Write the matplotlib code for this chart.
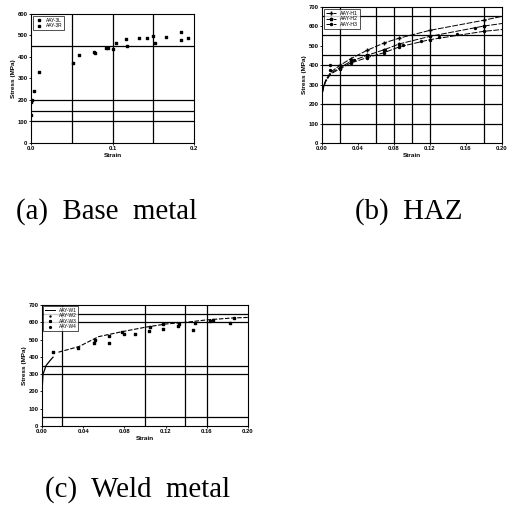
import matplotlib
matplotlib.use("Agg")
import matplotlib.pyplot as plt

W = H = 507

# ---- (a) base metal: scattered test points
a_strain = [0.0, 0.0, 0.001, 0.004, 0.0098, 0.051, 0.059, 0.0776, 0.079, 0.092, 0.094,
            0.100, 0.104, 0.117, 0.118, 0.133, 0.142, 0.150, 0.152, 0.166, 0.184, 0.184, 0.193]
a_stress = [130, 190, 200, 240, 328, 371, 410, 425, 418, 444, 444,
            436, 467, 484, 449, 487, 487, 498, 467, 495, 515, 479, 490]
a_hlines = [100, 150, 200, 450]
a_vlines = [0.05, 0.10, 0.15]

# ---- (b) HAZ: three fitted curves
b_strain = [0.0, 0.0, 0.0015, 0.004, 0.0096, 0.02, 0.032, 0.05, 0.069, 0.086, 0.12, 0.18, 0.20]
b_h1 = [0, 245, 288, 323, 365, 400, 434, 477, 515, 540, 580, 632, 652]
b_h2 = [0, 245, 285, 318, 360, 388, 420, 451, 480, 510, 549, 602, 615]
b_h3 = [0, 245, 282, 315, 355, 382, 412, 439, 465, 495, 532, 575, 584]
b_pts_x = [0.009, 0.0093, 0.035, 0.05, 0.07, 0.09, 0.11, 0.13, 0.15, 0.17]
b_pts_y = [400, 374, 425, 445, 480, 505, 525, 545, 560, 590]
b_hlines = [100, 200, 300, 350, 400, 455, 555, 655]
b_vlines = [0.02, 0.06, 0.08, 0.10, 0.12, 0.18]

# ---- (c) weld metal
c_strain0 = [0.0, 0.0, 0.001, 0.004, 0.008, 0.0107]
c_stress0 = [0, 200, 300, 350, 380, 398]
c_strain1 = [0.016, 0.036, 0.055, 0.078, 0.10, 0.12, 0.14, 0.16, 0.185, 0.20]
c_stress1 = [427, 460, 517, 546, 571, 590, 600, 614, 625, 628]
c_pts_x = [0.0107, 0.035, 0.05, 0.051, 0.065, 0.065, 0.078, 0.08, 0.09, 0.104, 0.105,
           0.117, 0.117, 0.132, 0.133, 0.147, 0.149, 0.163, 0.166, 0.183, 0.186]
c_pts_y = [427, 450, 481, 500, 481, 523, 546, 533, 533, 548, 571,
           561, 590, 581, 590, 558, 594, 610, 613, 596, 622]
c_hlines = [50, 300, 350, 600, 650]
c_vlines = [0.019, 0.10, 0.139, 0.16]

TICK_FS = 4.2
LAB_FS = 4.6


def px_axes(fig, left, top, right, bottom):
    return fig.add_axes([left / W, 1 - bottom / H, (right - left) / W, (bottom - top) / H])


def style(ax, ymax, xticks, xticklabels):
    ax.set_xlim(0, 0.2)
    ax.set_ylim(0, ymax)
    ax.set_yticks(range(0, ymax + 1, 100))
    ax.set_xticks(xticks)
    ax.set_xticklabels(xticklabels)
    ax.tick_params(labelsize=TICK_FS, length=1.5, width=0.6, pad=1)
    for lab in ax.get_xticklabels() + ax.get_yticklabels():
        lab.set_fontweight("bold")
    for s in ax.spines.values():
        s.set_linewidth(0.8)
    ax.set_xlabel("Strain", fontsize=LAB_FS, fontweight="bold", labelpad=1)
    ax.set_ylabel("Stress (MPa)", fontsize=LAB_FS, fontweight="bold", labelpad=1)


def grid(ax, hl, vl, lw=0.9):
    for y in hl:
        ax.axhline(y, color="black", lw=lw, zorder=1)
    for x in vl:
        ax.axvline(x, color="black", lw=lw, zorder=1)


plt.rcParams["font.family"] = ["Liberation Sans", "DejaVu Sans"]
fig = plt.figure(figsize=(W / 100, H / 100), dpi=100)

# (a)
ax = px_axes(fig, 31, 14, 194, 143)
grid(ax, a_hlines, a_vlines)
ax.axhline(600, color="black", lw=0.6, ls=":")
ax.scatter(a_strain, a_stress, s=2.5, color="black", marker="s", zorder=3)
style(ax, 600, [0, 0.1, 0.2], ["0.0", "0.1", "0.2"])
ax.plot([], [], "s", color="black", ms=1.5, label="AAY-3L")
ax.plot([], [], "s", color="black", ms=1.5, label="AAY-3R")
leg = ax.legend(loc="upper left", fontsize=3.5, frameon=True, fancybox=False,
                edgecolor="black", handlelength=1.5, borderpad=0.3,
                labelspacing=0.1, borderaxespad=0.5)
leg.get_frame().set_linewidth(0.6)

# (b)
ax = px_axes(fig, 322, 7, 502, 143)
grid(ax, b_hlines, b_vlines)
mk = [5, 6, 7, 8, 9, 10, 11]
ax.plot(b_strain, b_h1, color="black", lw=0.7, ls=(0, (6, 1.5)), marker="+", ms=2.5,
        markevery=mk, label="AAY-H1", zorder=3)
ax.plot(b_strain, b_h2, color="black", lw=0.7, ls=(0, (6, 1.5)), marker="*", ms=2.5,
        markevery=mk, label="AAY-H2", zorder=3)
ax.plot(b_strain, b_h3, color="black", lw=0.7, ls=(0, (6, 1.5)), marker="o", ms=1.5,
        markevery=mk, label="AAY-H3", zorder=3)
ax.scatter(b_pts_x, b_pts_y, s=2, color="black", zorder=3)
style(ax, 700, [0, 0.04, 0.08, 0.12, 0.16, 0.2],
      ["0.00", "0.04", "0.08", "0.12", "0.16", "0.20"])
leg = ax.legend(loc="upper left", fontsize=3.8, frameon=True, fancybox=False,
                edgecolor="black", handlelength=2.0, borderpad=0.3,
                labelspacing=0.15, borderaxespad=0.4)
leg.get_frame().set_linewidth(0.6)

# (c)
ax = px_axes(fig, 42, 305, 248, 426)
grid(ax, c_hlines, c_vlines)
ax.plot(c_strain0, c_stress0, color="black", lw=0.9, zorder=3)
ax.plot(c_strain1, c_stress1, color="black", lw=0.8, ls=(0, (4, 1.5)), zorder=3)
ax.scatter(c_pts_x, c_pts_y, s=3, color="black", marker="s", zorder=3)
style(ax, 700, [0, 0.04, 0.08, 0.12, 0.16, 0.2],
      ["0.00", "0.04", "0.08", "0.12", "0.16", "0.20"])
ax.plot([], [], color="black", lw=0.7, label="AAY-W1")
ax.plot([], [], "+", color="black", ms=2, label="AAY-W2")
ax.plot([], [], "*", color="black", ms=2, label="AAY-W3")
ax.plot([], [], "o", color="black", ms=1.3, label="AAY-W4")
leg = ax.legend(loc="upper left", fontsize=3.5, frameon=True, fancybox=False,
                edgecolor="black", handlelength=2.0, borderpad=0.3,
                labelspacing=0.1, borderaxespad=0.3)
leg.get_frame().set_linewidth(0.6)

# captions
cap = dict(fontsize=20.8, family=["Liberation Serif", "DejaVu Serif"], va="center")
fig.text(16 / W, 1 - 212 / H, "(a)  Base  metal", ha="left", **cap)
fig.text(355 / W, 1 - 212 / H, "(b)  HAZ", ha="left", **cap)
fig.text(45 / W, 1 - 490 / H, "(c)  Weld  metal", ha="left", **cap)

fig.savefig("out.png", dpi=100)
